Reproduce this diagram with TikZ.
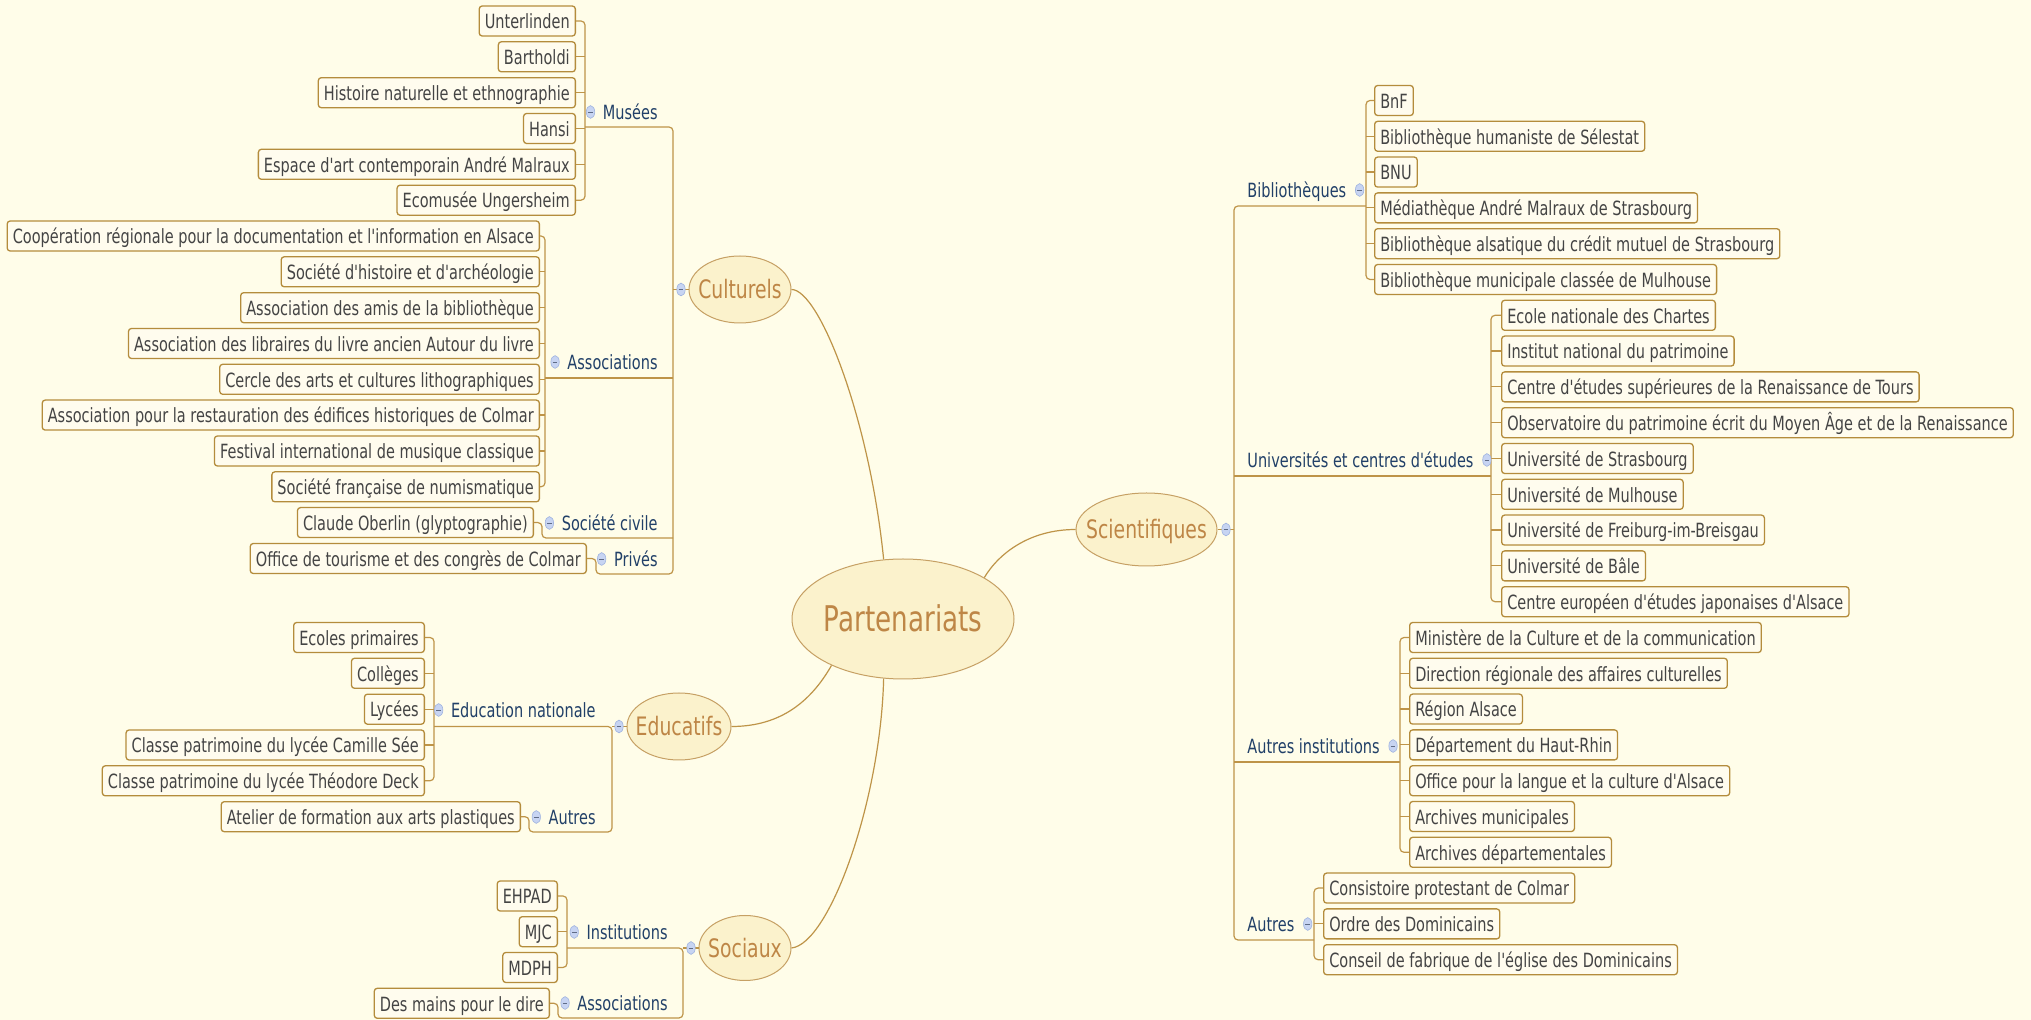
\documentclass[tikz,border=0pt]{standalone}
\usepackage{fontspec}
\setmainfont{DejaVu Sans}[FakeStretch=0.74]
\newfontfamily\mapfont{DejaVu Sans}[FakeStretch=0.74]
\usetikzlibrary{shapes.geometric}

\definecolor{bgcol}{RGB}{255,253,233}
\definecolor{linecol}{RGB}{190,148,72}
\definecolor{boxline}{RGB}{180,140,60}
\definecolor{boxfill}{RGB}{255,252,238}
\definecolor{leaftext}{RGB}{68,68,68}
\definecolor{labeltext}{RGB}{33,64,104}
\definecolor{topictext}{RGB}{190,134,70}
\definecolor{topicfill}{RGB}{251,242,204}
\definecolor{topicline}{RGB}{198,160,100}
\definecolor{iconfill}{RGB}{199,212,242}
\definecolor{iconline}{RGB}{159,179,224}

\tikzset{
  conn/.style={draw=linecol, line width=0.6pt, rounded corners=2pt},
  leaf/.style={draw=boxline, fill=boxfill, rounded corners=1.5pt, line width=0.65pt, text=leaftext,
    font=\mapfont\fontsize{9.8}{11}\selectfont, minimum height=15pt, inner xsep=2.8pt, inner ysep=0pt,
    text height=8.8pt, text depth=1pt},
  branch/.style={text=labeltext, font=\mapfont\fontsize{9.8}{11}\selectfont, inner sep=0pt,
    text height=8.8pt, text depth=1pt},
  topic/.style={ellipse, draw=topicline, fill=topicfill, line width=0.5pt, inner sep=0pt},
  topictxt/.style={text=topictext, font=\mapfont\fontsize{12.7}{14}\selectfont, inner sep=0pt,
    text height=9.2pt, text depth=0pt},
  toggle/.style={ellipse, draw=iconline, fill=iconfill, line width=0.3pt, minimum width=4.2pt,
    minimum height=6.4pt, inner sep=0pt,
    path picture={\draw[iconline!60!black, line width=0.4pt]
      ([xshift=-1.2pt]path picture bounding box.center) -- ([xshift=1.2pt]path picture bounding box.center);}}
}

\begin{document}
\begin{tikzpicture}[x=0.5pt, y=-0.5pt]
\useasboundingbox (0,0) rectangle (2031,1020);
\fill[bgcol] (0,0) rectangle (2031,1020);

% main topics
\node[topic, minimum width=111pt, minimum height=60pt] (part) at (903,619) {};
\node[topictxt, font=\mapfont\fontsize{17.7}{20}\selectfont, text height=12.9pt] (part-txt) at (part) {Partenariats};
\node[topic, minimum width=51pt, minimum height=33.5pt] (cult) at (740,289.5) {};
\node[topictxt] (cult-txt) at (cult) {Culturels};
\node[topic, minimum width=70.5pt, minimum height=36.5pt] (sci) at (1146.5,529.5) {};
\node[topictxt] (sci-txt) at (sci) {Scientifiques};
\node[topic, minimum width=52pt, minimum height=33.5pt] (edu) at (679,726.5) {};
\node[topictxt] (edu-txt) at (edu) {Educatifs};
\node[topic, minimum width=46pt, minimum height=32.5pt] (soc) at (745,948) {};
\node[topictxt] (soc-txt) at (soc) {Sociaux};

% Culturels
\node[leaf, anchor=east] (unter) at (576,21) {Unterlinden};
\node[leaf, anchor=east] (barth) at (576,56.8) {Bartholdi};
\node[leaf, anchor=east] (hist) at (576,92.7) {Histoire naturelle et ethnographie};
\node[leaf, anchor=east] (hansi) at (576,128.5) {Hansi};
\node[leaf, anchor=east] (espace) at (576,164.3) {Espace d'art contemporain André Malraux};
\node[leaf, anchor=east] (ecomus) at (576,200.2) {Ecomusée Ungersheim};
\node[branch, anchor=east] (mus) at (658,112) {Musées};

\node[leaf, anchor=east] (coop) at (540,236) {Coopération régionale pour la documentation et l'information en Alsace};
\node[leaf, anchor=east] (sochist) at (540,271.8) {Société d'histoire et d'archéologie};
\node[leaf, anchor=east] (amis) at (540,307.7) {Association des amis de la bibliothèque};
\node[leaf, anchor=east] (libr) at (540,343.5) {Association des libraires du livre ancien Autour du livre};
\node[leaf, anchor=east] (cercle) at (540,379.3) {Cercle des arts et cultures lithographiques};
\node[leaf, anchor=east] (restau) at (540,415.1) {Association pour la restauration des édifices historiques de Colmar};
\node[leaf, anchor=east] (festi) at (540,451) {Festival international de musique classique};
\node[leaf, anchor=east] (numis) at (540,486.8) {Société française de numismatique};
\node[branch, anchor=east] (assoc) at (658,362) {Associations};

\node[leaf, anchor=east] (oberlin) at (534,522.6) {Claude Oberlin (glyptographie)};
\node[branch, anchor=east] (socciv) at (658,523) {Société civile};
\node[leaf, anchor=east] (office) at (587,558.5) {Office de tourisme et des congrès de Colmar};
\node[branch, anchor=east] (priv) at (658,559) {Privés};

% Educatifs
\node[leaf, anchor=east] (ecoles) at (425,637.5) {Ecoles primaires};
\node[leaf, anchor=east] (colleges) at (425,673.3) {Collèges};
\node[leaf, anchor=east] (lycees) at (425,709.2) {Lycées};
\node[leaf, anchor=east] (camille) at (425,745) {Classe patrimoine du lycée Camille Sée};
\node[leaf, anchor=east] (deck) at (425,780.8) {Classe patrimoine du lycée Théodore Deck};
\node[branch, anchor=east] (ednat) at (596,710) {Education nationale};
\node[leaf, anchor=east] (atelier) at (521,816.7) {Atelier de formation aux arts plastiques};
\node[branch, anchor=east] (edaut) at (596,817) {Autres};

% Sociaux
\node[leaf, anchor=east] (ehpad) at (558,896) {EHPAD};
\node[leaf, anchor=east] (mjc) at (558,931.7) {MJC};
\node[leaf, anchor=east] (mdph) at (558,967.5) {MDPH};
\node[branch, anchor=east] (inst) at (668,932) {Institutions};
\node[leaf, anchor=east] (mains) at (550,1003.3) {Des mains pour le dire};
\node[branch, anchor=east] (socassoc) at (668,1003) {Associations};

% Scientifiques
\node[leaf, anchor=west] (bnf) at (1374,100.5) {BnF};
\node[leaf, anchor=west] (human) at (1374,136.3) {Bibliothèque humaniste de Sélestat};
\node[leaf, anchor=west] (bnu) at (1374,172.1) {BNU};
\node[leaf, anchor=west] (media) at (1374,207.9) {Médiathèque André Malraux de Strasbourg};
\node[leaf, anchor=west] (alsat) at (1374,243.7) {Bibliothèque alsatique du crédit mutuel de Strasbourg};
\node[leaf, anchor=west] (munic) at (1374,279.5) {Bibliothèque municipale classée de Mulhouse};
\node[branch, anchor=west] (bib) at (1247,190) {Bibliothèques};

\node[leaf, anchor=west] (chartes) at (1501,315.3) {Ecole nationale des Chartes};
\node[leaf, anchor=west] (inp) at (1501,351.1) {Institut national du patrimoine};
\node[leaf, anchor=west] (cesr) at (1501,386.9) {Centre d'études supérieures de la Renaissance de Tours};
\node[leaf, anchor=west] (observ) at (1501,422.7) {Observatoire du patrimoine écrit du Moyen Âge et de la Renaissance};
\node[leaf, anchor=west] (ustras) at (1501,458.5) {Université de Strasbourg};
\node[leaf, anchor=west] (umulh) at (1501,494.3) {Université de Mulhouse};
\node[leaf, anchor=west] (ufreib) at (1501,530.1) {Université de Freiburg-im-Breisgau};
\node[leaf, anchor=west] (ubale) at (1501,565.9) {Université de Bâle};
\node[leaf, anchor=west] (ceeja) at (1501,601.7) {Centre européen d'études japonaises d'Alsace};
\node[branch, anchor=west] (univ) at (1247,460) {Universités et centres d'études};

\node[leaf, anchor=west] (minist) at (1409,637.5) {Ministère de la Culture et de la communication};
\node[leaf, anchor=west] (drac) at (1409,673.3) {Direction régionale des affaires culturelles};
\node[leaf, anchor=west] (region) at (1409,709.1) {Région Alsace};
\node[leaf, anchor=west] (depart) at (1409,744.9) {Département du Haut-Rhin};
\node[leaf, anchor=west] (olca) at (1409,780.7) {Office pour la langue et la culture d'Alsace};
\node[leaf, anchor=west] (archmun) at (1409,816.5) {Archives municipales};
\node[leaf, anchor=west] (archdep) at (1409,852.3) {Archives départementales};
\node[branch, anchor=west] (autinst) at (1247,746) {Autres institutions};

\node[leaf, anchor=west] (consist) at (1323,888.1) {Consistoire protestant de Colmar};
\node[leaf, anchor=west] (ordre) at (1323,923.9) {Ordre des Dominicains};
\node[leaf, anchor=west] (fabrique) at (1323,959.7) {Conseil de fabrique de l'église des Dominicains};
\node[branch, anchor=west] (aut) at (1247,924) {Autres};

% junctions
\coordinate (mus-j) at (585,127);
\coordinate (assoc-j) at (545,378);
\coordinate (socciv-j) at (542,538);
\coordinate (priv-j) at (596,574);
\coordinate (cult-t) at (673,289.5);
\coordinate (ednat-j) at (434,726.5);
\coordinate (edaut-j) at (529,832);
\coordinate (edu-t) at (612,726.5);
\coordinate (inst-j) at (567,948);
\coordinate (socassoc-j) at (558,1018);
\coordinate (soc-t) at (683,948);
\coordinate (bib-j) at (1366,206);
\coordinate (univ-j) at (1491,476);
\coordinate (autinst-j) at (1400,762);
\coordinate (aut-j) at (1314,940);
\coordinate (sci-t) at (1234,529.5);

% curves to the centre
\draw[conn] (cult.east) .. controls +(28,0) and +(-14,-140) .. (part.108);
\draw[conn] (part.27) .. controls +(15,-25) and +(-45,0) .. (sci.west);
\draw[conn] (edu.east) .. controls +(50,0) and +(-20,35) .. (part.213);
\draw[conn] (soc.east) .. controls +(38,-4) and +(-3,122) .. (part.252);

% Culturels connectors
\draw[conn] (unter.east) -| (mus-j) |- (ecomus.east);
\draw[conn] (barth.east) -- (barth.east -| mus-j);
\draw[conn] (hist.east) -- (hist.east -| mus-j);
\draw[conn] (hansi.east) -- (hansi.east -| mus-j);
\draw[conn] (espace.east) -- (espace.east -| mus-j);
\draw[conn] (coop.east) -| (assoc-j) |- (numis.east);
\draw[conn] (sochist.east) -- (sochist.east -| assoc-j);
\draw[conn] (amis.east) -- (amis.east -| assoc-j);
\draw[conn] (libr.east) -- (libr.east -| assoc-j);
\draw[conn] (cercle.east) -- (cercle.east -| assoc-j);
\draw[conn] (restau.east) -- (restau.east -| assoc-j);
\draw[conn] (festi.east) -- (festi.east -| assoc-j);
\draw[conn] (mus-j) -| (cult-t) |- (priv-j) |- (office.east);
\draw[conn] (assoc-j) -- (assoc-j -| cult-t);
\draw[conn] (oberlin.east) -| (socciv-j) -- (socciv-j -| cult-t);
\draw[conn] (cult-t) -- (cult.west);

% Educatifs connectors
\draw[conn] (ecoles.east) -| (ednat-j) |- (deck.east);
\draw[conn] (colleges.east) -- (colleges.east -| ednat-j);
\draw[conn] (lycees.east) -- (lycees.east -| ednat-j);
\draw[conn] (camille.east) -- (camille.east -| ednat-j);
\draw[conn] (ednat-j) -- (edu-t) |- (edaut-j) |- (atelier.east);
\draw[conn] (edu-t) -- (edu.west);

% Sociaux connectors
\draw[conn] (ehpad.east) -| (inst-j) |- (mdph.east);
\draw[conn] (mjc.east) -- (mjc.east -| inst-j);
\draw[conn] (inst-j) -- (soc-t) |- (socassoc-j) |- (mains.east);
\draw[conn] (soc-t) -- (soc.west);

% Scientifiques connectors
\draw[conn] (bnf.west) -| (bib-j) |- (munic.west);
\draw[conn] (human.west) -- (human.west -| bib-j);
\draw[conn] (bnu.west) -- (bnu.west -| bib-j);
\draw[conn] (media.west) -- (media.west -| bib-j);
\draw[conn] (alsat.west) -- (alsat.west -| bib-j);
\draw[conn] (chartes.west) -| (univ-j) |- (ceeja.west);
\draw[conn] (inp.west) -- (inp.west -| univ-j);
\draw[conn] (cesr.west) -- (cesr.west -| univ-j);
\draw[conn] (observ.west) -- (observ.west -| univ-j);
\draw[conn] (ustras.west) -- (ustras.west -| univ-j);
\draw[conn] (umulh.west) -- (umulh.west -| univ-j);
\draw[conn] (ufreib.west) -- (ufreib.west -| univ-j);
\draw[conn] (ubale.west) -- (ubale.west -| univ-j);
\draw[conn] (minist.west) -| (autinst-j) |- (archdep.west);
\draw[conn] (drac.west) -- (drac.west -| autinst-j);
\draw[conn] (region.west) -- (region.west -| autinst-j);
\draw[conn] (depart.west) -- (depart.west -| autinst-j);
\draw[conn] (olca.west) -- (olca.west -| autinst-j);
\draw[conn] (archmun.west) -- (archmun.west -| autinst-j);
\draw[conn] (consist.west) -| (aut-j) |- (fabrique.west);
\draw[conn] (ordre.west) -- (ordre.west -| aut-j);
\draw[conn] (bib-j) -| (sci-t) |- (aut-j);
\draw[conn] (univ-j) -- (univ-j -| sci-t);
\draw[conn] (autinst-j) -- (autinst-j -| sci-t);
\draw[conn] (sci-t) -- (sci.east);

% collapse toggles
\node[toggle] (cult-i) at (681,289.5) {};
\node[toggle] (sci-i) at (1226,529.5) {};
\node[toggle] (edu-i) at (619,726.5) {};
\node[toggle] (soc-i) at (691,948) {};
\node[toggle] (mus-i) at ([xshift=-6pt]mus.west) {};
\node[toggle] (assoc-i) at ([xshift=-6pt]assoc.west) {};
\node[toggle] (socciv-i) at ([xshift=-6pt]socciv.west) {};
\node[toggle] (priv-i) at ([xshift=-6pt]priv.west) {};
\node[toggle] (ednat-i) at ([xshift=-6pt]ednat.west) {};
\node[toggle] (edaut-i) at ([xshift=-6pt]edaut.west) {};
\node[toggle] (inst-i) at ([xshift=-6pt]inst.west) {};
\node[toggle] (socassoc-i) at ([xshift=-6pt]socassoc.west) {};
\node[toggle] (bib-i) at ([xshift=6.5pt]bib.east) {};
\node[toggle] (univ-i) at ([xshift=6.5pt]univ.east) {};
\node[toggle] (autinst-i) at ([xshift=6.5pt]autinst.east) {};
\node[toggle] (aut-i) at ([xshift=6.5pt]aut.east) {};

\end{tikzpicture}
\end{document}
